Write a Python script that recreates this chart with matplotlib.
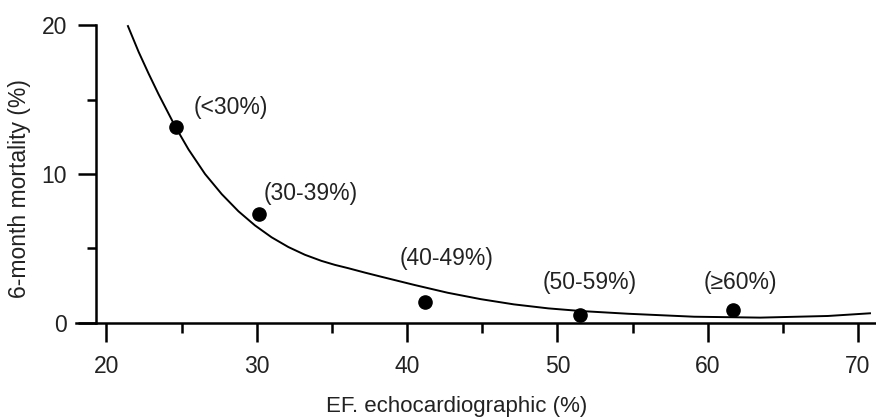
import matplotlib
matplotlib.use("Agg")
import matplotlib.pyplot as plt
from matplotlib.ticker import MultipleLocator

plt.rcParams['font.family'] = ['Liberation Sans', 'DejaVu Sans']

# ===============================
# Data
# ===============================

ef = [24.6, 30.15, 41.2, 51.5, 61.7]
mortality = [13.15, 7.3, 1.43, 0.54, 0.87]
groups = ["(<30%)", "(30-39%)", "(40-49%)", "(50-59%)", "(≥60%)"]

# fitted curve as traced on the picture
curve_x = [21.43, 22.14, 22.8, 23.47, 24.57, 25.46, 26.56, 27.67, 28.78,
           29.88, 30.99, 32.1, 33.2, 34.3, 35.2, 36.08, 37.2, 38.3, 40.5,
           42.7, 44.9, 47.1, 49.4, 51.6, 54.7, 59.1, 63.5, 68.0, 70.8]
curve_y = [19.93, 18.2, 16.75, 15.35, 13.2, 11.65, 10.0, 8.65, 7.5,
           6.55, 5.75, 5.1, 4.58, 4.17, 3.9, 3.68, 3.38, 3.1, 2.55,
           2.03, 1.6, 1.25, 0.98, 0.8, 0.62, 0.42, 0.36, 0.47, 0.65]

# label offsets in points (dx, dy)
offsets = [(13, 14), (3.5, 15), (-18, 31), (-27, 23), (-21, 19.5)]

# ===============================
# Plot
# ===============================

fig = plt.figure(figsize=(8.76, 4.2), dpi=100)
ax = fig.add_axes([0.0872, 0.231, 0.9128, 0.720])

ax.plot(curve_x, curve_y, color='black', lw=1.4, solid_joinstyle='round')
ax.plot(ef, mortality, 'o', color='black', ms=9.5)

FS = 16.5
for x, y, g, (dx, dy) in zip(ef, mortality, groups, offsets):
    ax.annotate(g, (x, y), xytext=(dx, dy), textcoords='offset points',
                ha='left', va='center', fontsize=FS, color='#222222')

ax.set_xlim(18, 71.2)
ax.set_ylim(0, 20.3)

for s in ['top', 'right']:
    ax.spines[s].set_visible(False)
ax.spines['left'].set_position(('data', 19.3))
ax.spines['left'].set_bounds(0, 20)
ax.spines['left'].set_linewidth(1.8)
ax.spines['bottom'].set_linewidth(1.8)

ax.set_xticks([20, 30, 40, 50, 60, 70])
ax.xaxis.set_minor_locator(MultipleLocator(5))
ax.yaxis.set_major_locator(MultipleLocator(10))
ax.yaxis.set_minor_locator(MultipleLocator(5))

ax.tick_params(axis='x', which='major', direction='out', length=14, width=1.8,
               pad=9, labelsize=FS, labelcolor='#222222')
ax.tick_params(axis='x', which='minor', direction='out', length=7.5, width=1.8)
ax.tick_params(axis='y', which='major', direction='out', length=13, width=1.8,
               pad=8, labelsize=FS, labelcolor='#222222')
ax.tick_params(axis='y', which='minor', direction='out', length=6.5, width=1.8)

ax.set_xlabel("EF. echocardiographic (%)", fontsize=16, color='#222222')
ax.xaxis.set_label_coords(0.4756, -0.242)
ax.xaxis.label.set_va('top')
ax.set_ylabel("6-month mortality (%)", fontsize=FS, color='#222222')
ax.yaxis.set_label_coords(-0.0568, 0.445)

fig.savefig("out.png", dpi=100)
